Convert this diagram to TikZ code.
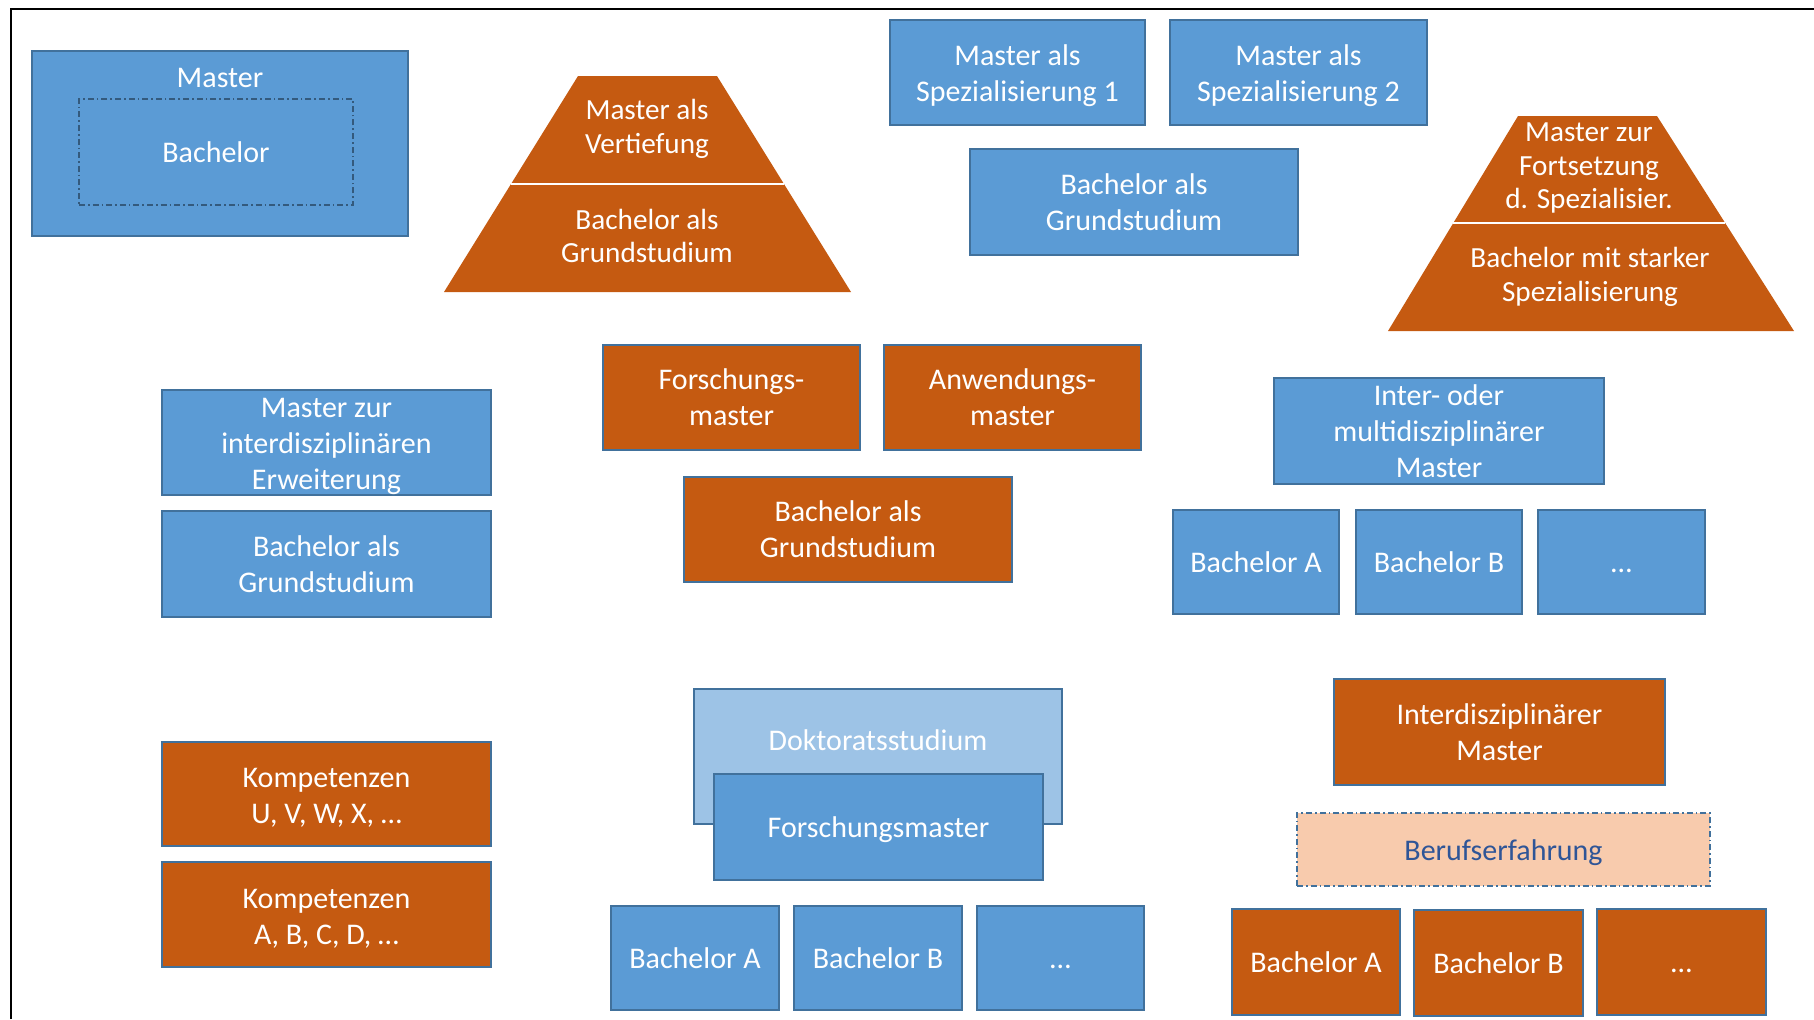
\documentclass[tikz,border=0pt]{standalone}
\usepackage{fontspec}
\setmainfont{Carlito}
\definecolor{obl}{HTML}{5B9BD5}
\definecolor{oor}{HTML}{C55A11}
\definecolor{oedge}{HTML}{41719C}
\definecolor{olb}{HTML}{9DC3E6}
\definecolor{opeach}{HTML}{F8CBAD}
\definecolor{otext}{HTML}{2F5597}
\newcommand\bx[7]{\node[#2, minimum width={(#5-#3)*0.5pt}, minimum height={(#6-#4)*0.5pt}] (#1) at ({(#3+#5)/2},{(#4+#6)/2}) {#7};}
\newcommand\mydn{\rule{0pt}{13.5pt}}
\newcommand\myell{\vphantom{Bachelor}…}
\begin{document}
\begin{tikzpicture}[x=0.5pt,y=-0.5pt,
 base/.style={draw=oedge, line width=0.6pt, inner sep=0pt, outer sep=0pt, text=white, align=center, font=\fontsize{15}{18}\selectfont},
 bluebox/.style={base, fill=obl},
 orbox/.style={base, fill=oor},
 lbbox/.style={base, fill=olb},
 dashdot/.style={dash pattern=on 3pt off 1.5pt on 0.8pt off 1.5pt},
 txt/.style={text=white, align=center, inner sep=0pt, font=\fontsize{15}{18}\selectfont},
 ptxt/.style={text=white, align=center, inner sep=0pt, font=\fontsize{14.6}{16.8}\selectfont},
 pyr/.style={fill=oor},
 divider/.style={draw=white, line width=0.8pt}]
\useasboundingbox (0,0) rectangle (1814,1019);
% frame
\draw[line width=1pt] (10.5,1019) -- (10.5,9) -- (1814,9);

% Master / Bachelor
\bx{master}{bluebox}{32}{51}{408}{236}{}
\node[txt] (mastert) at (220,78) {Master};
\bx{bach}{base, draw=oedge!80!black, dashdot, fill=none}{79}{99}{353}{205}{Bachelor}

% Pyramid 1
\fill[pyr] (578,76) -- (717,76) -- (851,292) -- (444,292) -- cycle;
\draw[divider] (511,184) -- (784,184);
\node[ptxt] (p1top) at (647,129) {Master als\\Vertiefung};
\node[ptxt] (p1bot) at (647,236) {Bachelor als\\Grundstudium};

% Spezialisierung
\bx{spec1}{bluebox}{890}{20}{1145}{125}{\mydn Master als\\Spezialisierung 1}
\bx{spec2}{bluebox}{1170}{20}{1427}{125}{\mydn Master als\\Spezialisierung 2}
\bx{bg1}{bluebox}{970}{149}{1298}{255}{Bachelor als\\Grundstudium}

% Pyramid 2
\fill[pyr] (1518,116) -- (1657,116) -- (1794,331) -- (1388,331) -- cycle;
\draw[divider] (1453,223) -- (1725,223);
\node[ptxt] (p2top) at (1589,168) {Master zur\\Fortsetzung\\d. Spezialisier.};
\node[ptxt] (p2bot) at (1590,277) {Bachelor mit starker\\Spezialisierung};

% middle row
\bx{interd}{bluebox}{162}{390}{491}{495}{\mydn Master zur\\interdisziplinären\\Erweiterung}
\bx{bg3}{bluebox}{162}{511}{491}{617}{Bachelor als\\Grundstudium}

\bx{forsch}{orbox}{603}{345}{860}{450}{Forschungs-\\master}
\bx{anw}{orbox}{884}{345}{1141}{450}{Anwendungs-\\master}
\bx{bg2}{orbox}{684}{477}{1012}{582}{Bachelor als\\Grundstudium}

\bx{multi}{bluebox}{1274}{378}{1604}{484}{Inter- oder\\multidisziplinärer\\Master}
\bx{ba1}{bluebox}{1173}{510}{1339}{614}{Bachelor A}
\bx{bb1}{bluebox}{1356}{510}{1522}{614}{Bachelor B}
\bx{bd1}{bluebox}{1538}{510}{1705}{614}{\myell}

% bottom row
\bx{kompu}{orbox}{162}{742}{491}{846}{\mydn Kompetenzen\\U, V, W, X, …}
\bx{kompa}{orbox}{162}{862}{491}{967}{\mydn Kompetenzen\\A, B, C, D, …}

\bx{dokt}{lbbox}{694}{689}{1062}{824}{}
\node[txt] (doktt) at (878,740) {Doktoratsstudium};
\bx{fm}{bluebox}{714}{774}{1043}{880}{\mydn Forschungsmaster}
\bx{ba2}{bluebox}{611}{906}{779}{1010}{Bachelor A}
\bx{bb2}{bluebox}{794}{906}{962}{1010}{Bachelor B}
\bx{bd2}{bluebox}{977}{906}{1144}{1010}{\myell}

\bx{im}{orbox}{1334}{679}{1665}{785}{Interdisziplinärer\\Master}
\bx{beruf}{base, fill=opeach, dashdot, text=otext}{1297}{813}{1710}{886}{\mydn Berufserfahrung}
\bx{ba3}{orbox}{1232}{909}{1400}{1015}{Bachelor A}
\bx{bb3}{orbox}{1414}{910}{1583}{1016}{Bachelor B}
\bx{bd3}{orbox}{1597}{909}{1766}{1015}{\myell}
\end{tikzpicture}
\end{document}
